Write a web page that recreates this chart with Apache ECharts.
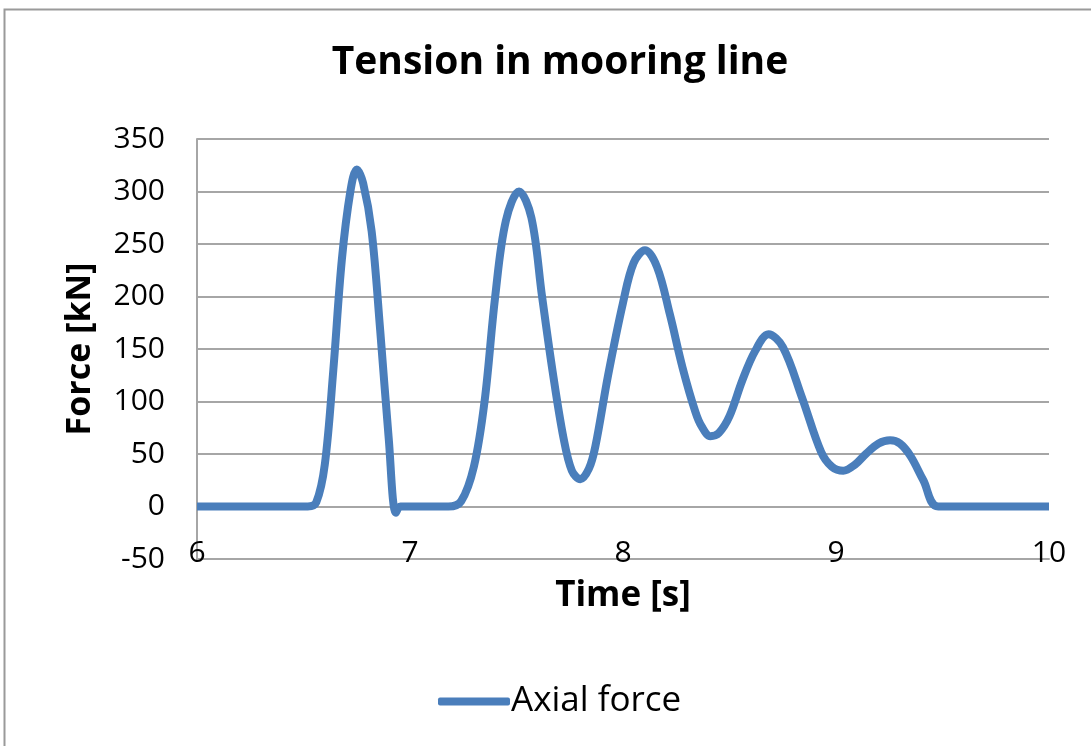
<!DOCTYPE html>
<html>
<head>
<meta charset="utf-8">
<script src="https://cdn.jsdelivr.net/npm/echarts@6/dist/echarts.min.js"></script>
<style>
html,body{margin:0;padding:0;background:#fff;}
#chart{width:1091px;height:746px;}
</style>
</head>
<body>
<div id="chart"></div>
<script>
// Time [s]
var timeValues = [6.00, 6.52, 6.56, 6.60, 6.64, 6.68, 6.72, 6.75, 6.78, 6.82, 6.86, 6.90, 6.934, 6.955,
  7.18, 7.24, 7.30, 7.35, 7.40, 7.45, 7.512, 7.57, 7.62, 7.67, 7.72, 7.76, 7.80, 7.84, 7.87, 7.93, 8.00, 8.05, 8.103, 8.16, 8.22, 8.28, 8.34, 8.37, 8.41, 8.45, 8.50, 8.56, 8.62, 8.683, 8.75, 8.84, 8.93, 8.98, 9.034, 9.09, 9.14, 9.20, 9.254, 9.30, 9.35, 9.41, 9.48, 10.00];
// Axial force [kN]
var forceValues = [0, 0, 4, 40, 130, 235, 300, 321, 308, 262, 168, 65, -6, 0,
  0, 5, 38, 100, 200, 272, 300, 275, 200, 128, 66, 34, 26, 36, 57, 125, 194, 232, 244, 228, 183, 132, 90, 76, 67, 70, 86, 120, 148, 164, 152, 104, 52, 38, 34, 40, 50, 60, 63, 60, 48, 25, 0, 0];
var seriesName = 'Axial force';
var chartTitle = 'Tension in mooring line';
var xAxisName = 'Time [s]';
var yAxisName = 'Force [kN]';

var data = timeValues.map(function (t, i) { return [t, forceValues[i]]; });
var FONT = '"Open Sans", "Noto Sans", sans-serif';

var chart = echarts.init(document.getElementById('chart'));
chart.setOption({
  animation: false,
  backgroundColor: '#ffffff',
  graphic: [{
    type: 'rect',
    shape: { x: 4.5, y: 9.5, width: 1200, height: 900 },
    style: { fill: 'none', stroke: '#9a9a9a', lineWidth: 2 }
  }],
  title: {
    text: chartTitle,
    left: 555,
    top: 38,
    textAlign: 'center',
    textStyle: { fontFamily: FONT, fontWeight: 'bold', fontSize: 39, color: '#000' }
  },
  grid: { left: 197, right: 42, top: 139, bottom: 187, containLabel: false },
  legend: {
    data: [seriesName],
    left: 433,
    top: 679,
    icon: 'roundRect',
    itemWidth: 72,
    itemHeight: 8,
    itemGap: 10,
    textStyle: { fontFamily: FONT, fontSize: 35, color: '#000', padding: [0, 0, 0, -4] }
  },
  xAxis: {
    type: 'value',
    min: 6, max: 10, interval: 1,
    name: xAxisName,
    nameLocation: 'middle',
    nameGap: 20,
    nameTextStyle: { fontFamily: FONT, fontWeight: 'bold', fontSize: 35, color: '#000' },
    axisLine: { show: true, onZero: false, lineStyle: { color: '#a6a6a6', width: 2 } },
    axisTick: { show: false },
    splitLine: { show: false },
    axisLabel: { fontFamily: FONT, fontSize: 30, color: '#000', margin: -6, verticalAlign: 'middle' }
  },
  yAxis: {
    type: 'value',
    min: -50, max: 350, interval: 50,
    name: yAxisName,
    nameLocation: 'middle',
    nameGap: 100,
    nameTextStyle: { fontFamily: FONT, fontWeight: 'bold', fontSize: 34, color: '#000' },
    axisLine: { show: true, lineStyle: { color: '#a6a6a6', width: 2 } },
    axisTick: { show: false },
    splitLine: { show: true, lineStyle: { color: '#a6a6a6', width: 2 } },
    axisLabel: { fontFamily: FONT, fontSize: 30, color: '#000', margin: 32 }
  },
  series: [{
    name: seriesName,
    type: 'line',
    data: data,
    smooth: 0.35,
    symbol: 'none',
    lineStyle: { color: '#4A7EBB', width: 8 },
    itemStyle: { color: '#4A7EBB' }
  }]
});
</script>
</body>
</html>
